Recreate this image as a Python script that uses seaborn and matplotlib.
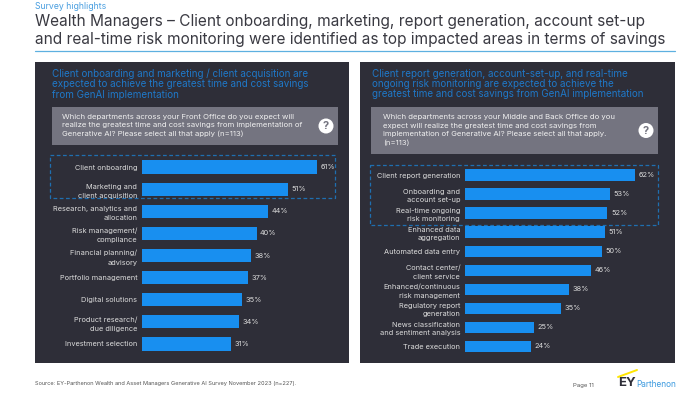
import matplotlib
matplotlib.use("Agg")
import matplotlib.pyplot as plt
import matplotlib.patches as mpatches
import pandas as pd
import seaborn as sns

# data
left_labels = ["Client onboarding", "Marketing and\nclient acquisition", "Research, analytics and\nallocation",
               "Risk management/\ncompliance", "Financial planning/\nadvisory", "Portfolio management",
               "Digital solutions", "Product research/\ndue diligence", "Investment selection"]
left_values = [61, 51, 44, 40, 38, 37, 35, 34, 31]

right_labels = ["Client report generation", "Onboarding and\naccount set-up", "Real-time ongoing\nrisk monitoring",
                "Enhanced data\naggregation", "Automated data entry", "Contact center/\nclient service",
                "Enhanced/continuous\nrisk management", "Regulatory report\ngeneration",
                "News classification\nand sentiment analysis", "Trade execution"]
right_values = [62, 53, 52, 51, 50, 46, 38, 35, 25, 24]

title_lines = "Wealth Managers \u2013 Client onboarding, marketing, report generation, account set-up\nand real-time risk monitoring were identified as top impacted areas in terms of savings"
left_head = "Client onboarding and marketing / client acquisition are\nexpected to achieve the greatest time and cost savings\nfrom GenAI implementation"
right_head = "Client report generation, account-set-up, and real-time\nongoing risk monitoring are expected to achieve the\ngreatest time and cost savings from GenAI implementation"
left_q = "Which departments across your Front Office do you expect will\nrealize the greatest time and cost savings from implementation of\nGenerative AI? Please select all that apply (n=113)"
right_q = "Which departments across your Middle and Back Office do you\nexpect will realize the greatest time and cost savings from\nimplementation of Generative AI? Please select all that apply.\n(n=113)"
source = "Source: EY-Parthenon Wealth and Asset Managers Generative AI Survey November 2023 (n=227)."

DARK = "#2e2e38"
BLUE = "#188ff0"
HEAD = "#1f78c8"
GREY = "#747480"
W, H = 695, 393

sns.set_theme(style="white")
plt.rcParams["font.family"] = ["Inter", "DejaVu Sans"]

fig = plt.figure(figsize=(6.95, 3.93), dpi=100, facecolor="white")

# background layer in pixel coordinates
bg = fig.add_axes([0, 0, 1, 1])
bg.set_xlim(0, W)
bg.set_ylim(H, 0)
bg.axis("off")

bg.text(35, 6.5, "Survey highlights", fontsize=6.3, color="#4a9fe0", va="center")
bg.text(35, 30.5, title_lines, fontsize=11.1, color="#3a3a42", va="center", linespacing=1.18)
bg.plot([35, 675], [50.5, 50.5], color="#5db0e0", lw=0.9)


def add_panel(x0, x1, head_x, head, q_x0, q_x1, text_x, q, qbottom, qx):
    bg.add_patch(mpatches.Rectangle((x0, 62), x1 - x0, 301, fc=DARK, ec="none"))
    bg.text(head_x, 84, head, fontsize=7.1, color=HEAD, va="center", linespacing=1.05)
    bg.add_patch(mpatches.Rectangle((q_x0, 107), q_x1 - q_x0, qbottom - 107, fc=GREY, ec="none"))
    bg.text(text_x, 107 + (qbottom - 107) / 2 - 0.5, q, fontsize=5.6, color="#f0f0f0", va="center", linespacing=1.42)
    bg.add_patch(mpatches.Circle((qx, (107 + qbottom) / 2), 7.5, fc="white", ec="none"))
    bg.text(qx, (107 + qbottom) / 2, "?", fontsize=8, fontweight="bold", color=GREY, ha="center", va="center")


add_panel(35, 349, 52, left_head, 51.5, 338, 62, left_q, 145, 326)
add_panel(360, 675, 372, right_head, 371, 658, 383, right_q, 154, 646)

bg.add_patch(mpatches.Rectangle((50, 155), 285, 43, fc="none", ec="#1f6fb0", lw=0.9, ls=(0, (3, 2)), zorder=5))
bg.add_patch(mpatches.Rectangle((370, 165), 288, 60, fc="none", ec="#1f6fb0", lw=0.9, ls=(0, (3, 2)), zorder=5))

bg.text(35, 384, source, fontsize=4.05, color="#555555", va="center")
bg.text(573, 385, "Page 11", fontsize=4.3, color="#555555", va="center")
bg.text(618, 383, "EY", fontsize=9.5, fontweight="bold", color=DARK, va="center")
bg.text(636, 384.5, "Parthenon", fontsize=5.9, color="#3d9be0", va="center")
bg.plot([618, 637], [377, 370], color="#ffe600", lw=1.4)


def bar_panel(labels, values, x0, x1, y0, y1, xmax, spacing):
    ax = fig.add_axes([x0 / W, 1 - y1 / H, (x1 - x0) / W, (y1 - y0) / H])
    ax.patch.set_alpha(0)
    df = pd.DataFrame({"label": labels, "value": values})
    sns.barplot(data=df, x="value", y="label", orient="h", color=BLUE, saturation=1, width=0.6, linewidth=0, ax=ax)
    ax.set_xlim(0, xmax)
    ax.set_ylim(len(labels) - 0.5, -0.5)
    ax.set_xlabel("")
    ax.set_ylabel("")
    ax.set_xticks([])
    ax.tick_params(axis="y", length=0, pad=3.5, labelsize=5.3, labelcolor="#dcdcdc")
    for lab in ax.get_yticklabels():
        lab.set_linespacing(spacing)
    sns.despine(ax=ax, left=True, bottom=True)
    ax.bar_label(ax.containers[0], fmt="%d%%", padding=2.5, fontsize=5.3, color="#dcdcdc")
    return ax


# 2.865 px per % on the left, 2.74 px per % on the right
bar_panel(left_labels, left_values, 142, 342, 156, 355, 200 / 2.865, 1.65)
bar_panel(right_labels, right_values, 465, 665, 165.5, 356, 200 / 2.74, 1.5)

fig.savefig("out.png", dpi=100)
